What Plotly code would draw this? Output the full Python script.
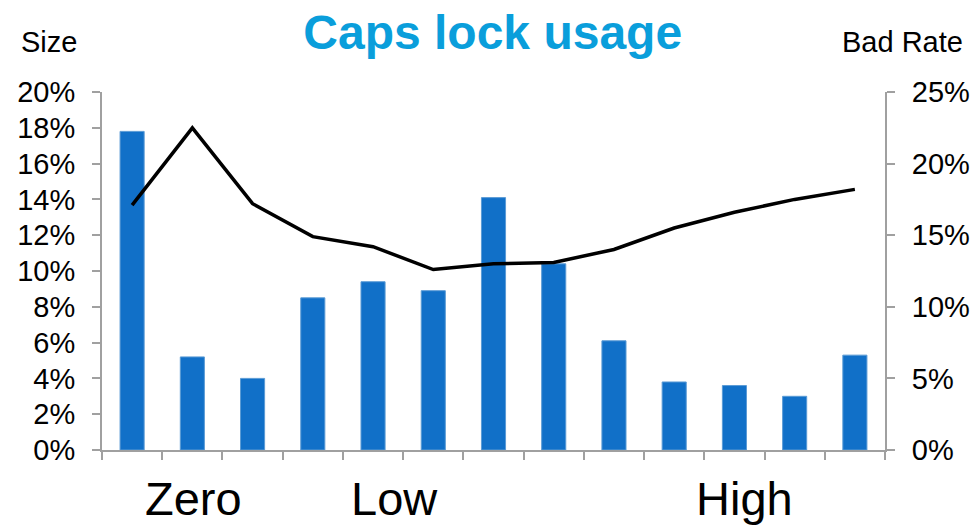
import plotly.graph_objects as go

# Size share per caps-lock usage bucket (left axis) and bad rate (right axis)
bucket_index = list(range(13))
size_share = [0.178, 0.052, 0.040, 0.085, 0.094, 0.089, 0.141, 0.104, 0.061, 0.038, 0.036, 0.030, 0.053]
bad_rate = [0.171, 0.225, 0.172, 0.149, 0.142, 0.126, 0.130, 0.131, 0.140, 0.155, 0.166, 0.175, 0.182]

# Group labels under the axis and where they sit along it
group_labels = ["Zero", "Low", "High"]
group_positions = [1.02, 4.36, 10.17]

FONT = "Arial, Liberation Sans, sans-serif"
AXIS_GREY = "#a0a0a0"

fig = go.Figure()
fig.add_trace(go.Bar(
    x=bucket_index, y=size_share, width=0.4,
    marker=dict(color="#1170c8", line=dict(color="#5b9bd5", width=1)),
    name="Size", yaxis="y",
))
fig.add_trace(go.Scatter(
    x=bucket_index, y=bad_rate, mode="lines",
    line=dict(color="#000000", width=3.5),
    name="Bad Rate", yaxis="y2",
))

annotations = [
    dict(text=lab, x=pos, xref="x", y=-0.055, yref="paper", yanchor="top",
         xanchor="center", showarrow=False, font=dict(family=FONT, size=47, color="#000000"))
    for lab, pos in zip(group_labels, group_positions)
]
annotations += [
    dict(text="Size", x=19, xref="paper", xanchor="left", y=42, yref="paper",
         yanchor="middle", showarrow=False, font=dict(family=FONT, size=29, color="#000000")),
    dict(text="Bad Rate", x=965, xref="paper", xanchor="right", y=42, yref="paper",
         yanchor="middle", showarrow=False, font=dict(family=FONT, size=29, color="#000000")),
]

# convert the pixel-placed axis titles into paper coordinates
L, R, T, B, W, H = 102, 91, 92, 79, 976, 529
pw, ph = W - L - R, H - T - B
for a in annotations[-2:]:
    a["x"] = (a["x"] - L) / pw
    a["y"] = (H - B - a["y"]) / ph

fig.update_layout(
    width=W, height=H,
    margin=dict(l=L, r=R, t=T, b=B, autoexpand=False),
    paper_bgcolor="white", plot_bgcolor="white",
    showlegend=False,
    title=dict(text="<b>Caps lock usage</b>", x=0.499, xanchor="center", xref="paper",
               y=0.94, yanchor="middle",
               font=dict(family=FONT, size=48, color="#0a9edb")),
    font=dict(family=FONT, size=29, color="#000000"),
    xaxis=dict(
        range=[-0.5, 12.5], showgrid=False, zeroline=False, automargin=False,
        showline=True, linecolor=AXIS_GREY, linewidth=2,
        tickmode="array", tickvals=[i - 0.5 for i in range(14)],
        ticks="outside", ticklen=8, tickcolor=AXIS_GREY, tickwidth=2,
        showticklabels=False,
    ),
    yaxis=dict(
        range=[0, 0.20], dtick=0.02, tickformat=".0%",
        showgrid=False, zeroline=False, automargin=False,
        showline=True, linecolor=AXIS_GREY, linewidth=2,
        ticks="outside", ticklen=8, tickcolor=AXIS_GREY, tickwidth=2,
        ticklabelstandoff=11,
        tickfont=dict(family=FONT, size=29, color="#000000"),
    ),
    yaxis2=dict(
        range=[0, 0.25], dtick=0.05, tickformat=".0%",
        overlaying="y", side="right",
        showgrid=False, zeroline=False, automargin=False,
        showline=True, linecolor=AXIS_GREY, linewidth=2,
        ticks="outside", ticklen=8, tickcolor=AXIS_GREY, tickwidth=2,
        ticklabelstandoff=11,
        tickfont=dict(family=FONT, size=29, color="#000000"),
    ),
    annotations=annotations,
)

fig.write_html("out.html")
